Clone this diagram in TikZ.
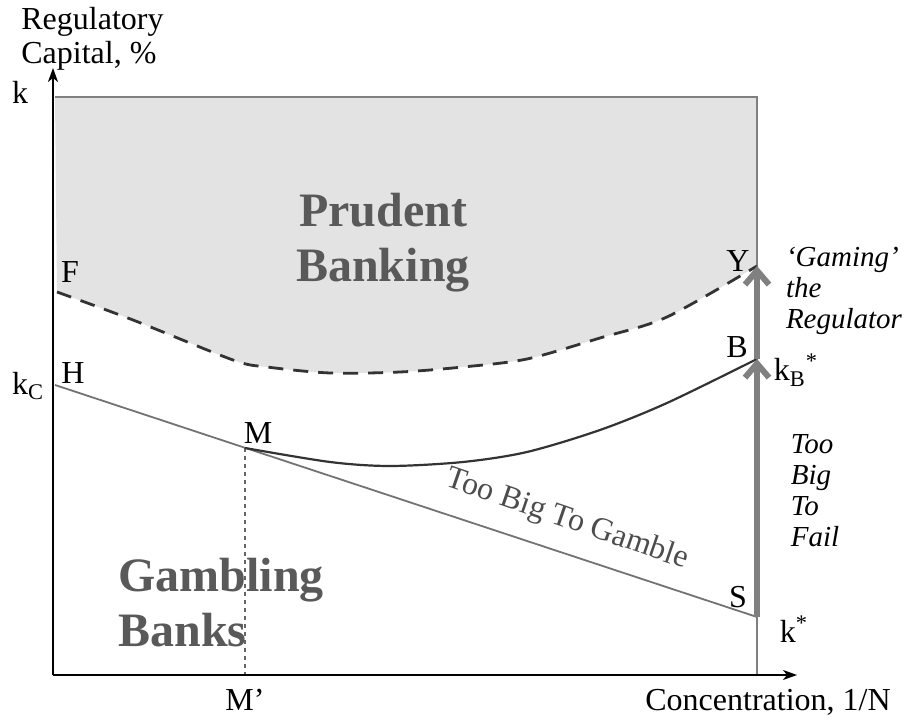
\documentclass[tikz,border=0pt]{standalone}
\usepackage{fontspec}
\setmainfont{Liberation Serif}
\usetikzlibrary{arrows.meta}

\begin{document}
\begin{tikzpicture}[x=0.5pt, y=0.5pt,
lbl/.style={inner sep=0pt, font=\fontsize{16}{17}\selectfont},
region/.style={inner sep=0pt, text=black!65, font=\fontsize{24}{27.5}\selectfont\bfseries},
note/.style={inner sep=0pt, align=left, font=\fontsize{14.5}{15.5}\selectfont\itshape},
thinline/.style={draw=black!50, line width=0.7pt},
jump/.style={draw=black!50, line width=3pt, -{Straight Barb[length=7pt,width=12pt]}},
axis/.style={line width=1pt, -{Stealth[length=7pt,width=5pt,inset=2pt]}}]

\useasboundingbox (0,0) rectangle (906,717);

% key points
\coordinate (O) at (53,42);
\coordinate (ytop) at (53,649);
\coordinate (xend) at (797,42);
\coordinate (H) at (55,332);
\coordinate (S) at (757,100);
\coordinate (M) at (245,269);
\coordinate (Mp) at (245,42);
\coordinate (B) at (757,358);
\coordinate (Y) at (757,451);
\coordinate (F) at (57,425);
\coordinate (tl) at (55,620);
\coordinate (tr) at (757,620);
\coordinate (br) at (757,42);

% prudent region
\fill[black!11] (tl) -- plot[smooth] coordinates {(F) (133,397) (233,357) (267,350) (330,344) (400,345) (463,350) (527,358) (600,379) (667,400) (Y)} -- (tr) -- cycle;
\draw[thinline] (tl) -- (tr) -- (br);

% curves
\draw[draw=black!55, line width=0.9pt] (H) -- (S);
\draw[draw=black!60, line width=0.6pt, dash pattern=on 2pt off 2pt] (M) -- (Mp);
\draw[draw=black!80, line width=1.4pt, dash pattern=on 7.5pt off 5pt] plot[smooth] coordinates {(F) (133,397) (233,357) (267,350) (330,344) (400,345) (463,350) (527,358) (600,379) (667,400) (Y)};
\draw[draw=black!80, line width=1.1pt] plot[smooth] coordinates {(M) (330,255) (390,251) (463,255) (527,265) (600,287) (667,314) (B)};

\draw[jump] (S) -- (B);
\draw[jump] (B) -- (Y);
\draw[axis] (O) -- (ytop);
\draw[axis] (O) -- (xend);

% labels
\node[lbl, align=left, anchor=north west] (ylab) at (21,710) {Regulatory\\Capital, \%};
\node[lbl] (k) at (20,625) {k};
\node[lbl] (kc) at (28,331) {k\textsubscript{C}};
\node[lbl] (Fl) at (70,445) {F};
\node[lbl] (Hl) at (73,344) {H};
\node[lbl] (Ml) at (258,284) {M};
\node[lbl] (Mpl) at (245,17) {M’};
\node[lbl] (Yl) at (738,456) {Y};
\node[lbl] (Bl) at (737,370) {B};
\node[lbl] (kb) at (796,347) {k\textsubscript{B}\textsuperscript{*}};
\node[lbl] (Sl) at (738,120) {S};
\node[lbl] (ks) at (794,88) {k\textsuperscript{*}};
\node[lbl] (xlab) at (768,15) {Concentration, 1/N};

\node[region, align=center] (prudent) at (383,474) {Prudent\\Banking};
\node[region, align=left] (gambling) at (221,114) {Gambling\\Banks};
\node[lbl, text=black!70, rotate=-19] (tbtg) at (567,197) {Too Big To Gamble};

\node[note] (gaming) at (844,426) {‘Gaming’\\the\\Regulator};
\node[note] (tbtf) at (815,226) {Too\\Big\\To\\Fail};
\end{tikzpicture}
\end{document}
